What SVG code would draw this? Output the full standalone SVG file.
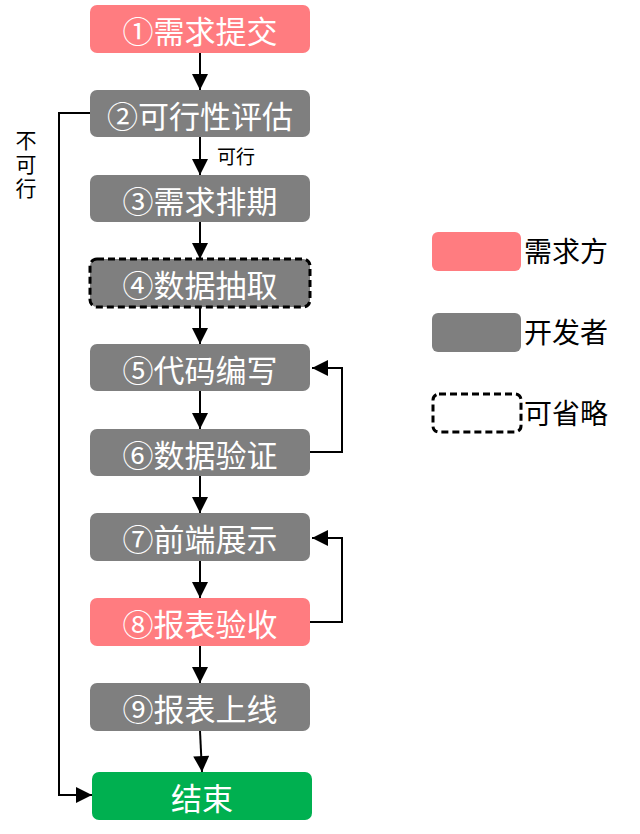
<svg xmlns="http://www.w3.org/2000/svg" width="640" height="834" viewBox="0 0 640 834">
<defs>
<marker id="ah" viewBox="0 0 10 10" refX="10" refY="5" markerWidth="17" markerHeight="16" markerUnits="userSpaceOnUse" orient="auto">
<path d="M0,0 L10,5 L0,10 Z" fill="#000"/>
</marker>
</defs>
<style>
.pink{fill:#FF7C80}
.gray{fill:#7F7F7F}
.green{fill:#00B050}
.dash{stroke:#000;stroke-width:3;stroke-dasharray:7,4}
.bt{font-family:"Noto Sans CJK SC","Noto Sans",sans-serif;font-size:31px;fill:#fff;text-anchor:middle;dominant-baseline:central}
.lt{font-family:"Noto Sans CJK SC","Noto Sans",sans-serif;font-size:28px;fill:#000;dominant-baseline:central}
.st{font-family:"Noto Sans CJK SC","Noto Sans",sans-serif;font-size:19px;fill:#000;dominant-baseline:central}
.c{fill:none;stroke:#000;stroke-width:2}
</style>
<rect width="640" height="834" fill="#fff"/>
<g id="connectors">
<line class="c" x1="200" y1="53" x2="200" y2="90" marker-end="url(#ah)"/>
<line class="c" x1="200" y1="137" x2="200" y2="175" marker-end="url(#ah)"/>
<line class="c" x1="200" y1="222" x2="200" y2="259" marker-end="url(#ah)"/>
<line class="c" x1="200" y1="307" x2="200" y2="344" marker-end="url(#ah)"/>
<line class="c" x1="200" y1="391" x2="200" y2="429" marker-end="url(#ah)"/>
<line class="c" x1="200" y1="476" x2="200" y2="513" marker-end="url(#ah)"/>
<line class="c" x1="200" y1="561" x2="200" y2="598" marker-end="url(#ah)"/>
<line class="c" x1="200" y1="646" x2="200" y2="683" marker-end="url(#ah)"/>
<line class="c" x1="200" y1="731" x2="202" y2="772" marker-end="url(#ah)"/>
<polyline class="c" points="90,113 59,113 59,795 92,795" marker-end="url(#ah)"/>
<polyline class="c" points="310,452 342,452 342,368 312,368" marker-end="url(#ah)"/>
<polyline class="c" points="310,622 342,622 342,538 312,538" marker-end="url(#ah)"/>
<text class="st" x="217" y="155">可行</text>
<text x="26" y="130" style="font-family:'Noto Sans CJK SC','Noto Sans',sans-serif;font-size:21px;fill:#000;writing-mode:vertical-rl;letter-spacing:3px">不可行</text>
</g>
<g id="n1"><rect class="pink" x="90" y="5" width="220" height="48" rx="7"/><text class="bt" x="200" y="29">①需求提交</text></g>
<g id="n2"><rect class="gray" x="90" y="90" width="220" height="47" rx="7"/><text class="bt" x="200" y="114">②可行性评估</text></g>
<g id="n3"><rect class="gray" x="90" y="175" width="220" height="47" rx="7"/><text class="bt" x="200" y="199">③需求排期</text></g>
<g id="n4"><rect class="gray dash" x="90" y="259" width="220" height="48" rx="7"/><text class="bt" x="200" y="283">④数据抽取</text></g>
<g id="n5"><rect class="gray" x="90" y="344" width="220" height="47" rx="7"/><text class="bt" x="200" y="368">⑤代码编写</text></g>
<g id="n6"><rect class="gray" x="90" y="429" width="220" height="47" rx="7"/><text class="bt" x="200" y="453">⑥数据验证</text></g>
<g id="n7"><rect class="gray" x="90" y="513" width="220" height="48" rx="7"/><text class="bt" x="200" y="537">⑦前端展示</text></g>
<g id="n8"><rect class="pink" x="90" y="598" width="220" height="48" rx="7"/><text class="bt" x="200" y="622">⑧报表验收</text></g>
<g id="n9"><rect class="gray" x="90" y="683" width="220" height="48" rx="7"/><text class="bt" x="200" y="707">⑨报表上线</text></g>
<g id="n10"><rect class="green" x="92" y="772" width="220" height="48" rx="7"/><text class="bt" x="202" y="796">结束</text></g>
<g id="legend">
<rect class="pink" x="432" y="232" width="89" height="39" rx="6"/><text class="lt" x="524" y="250">需求方</text>
<rect class="gray" x="432" y="313" width="89" height="39" rx="6"/><text class="lt" x="524" y="331">开发者</text>
<rect x="433" y="394" width="88" height="38" rx="6" fill="#fff" class="dash"/><text class="lt" x="524" y="412">可省略</text>
</g>
</svg>
